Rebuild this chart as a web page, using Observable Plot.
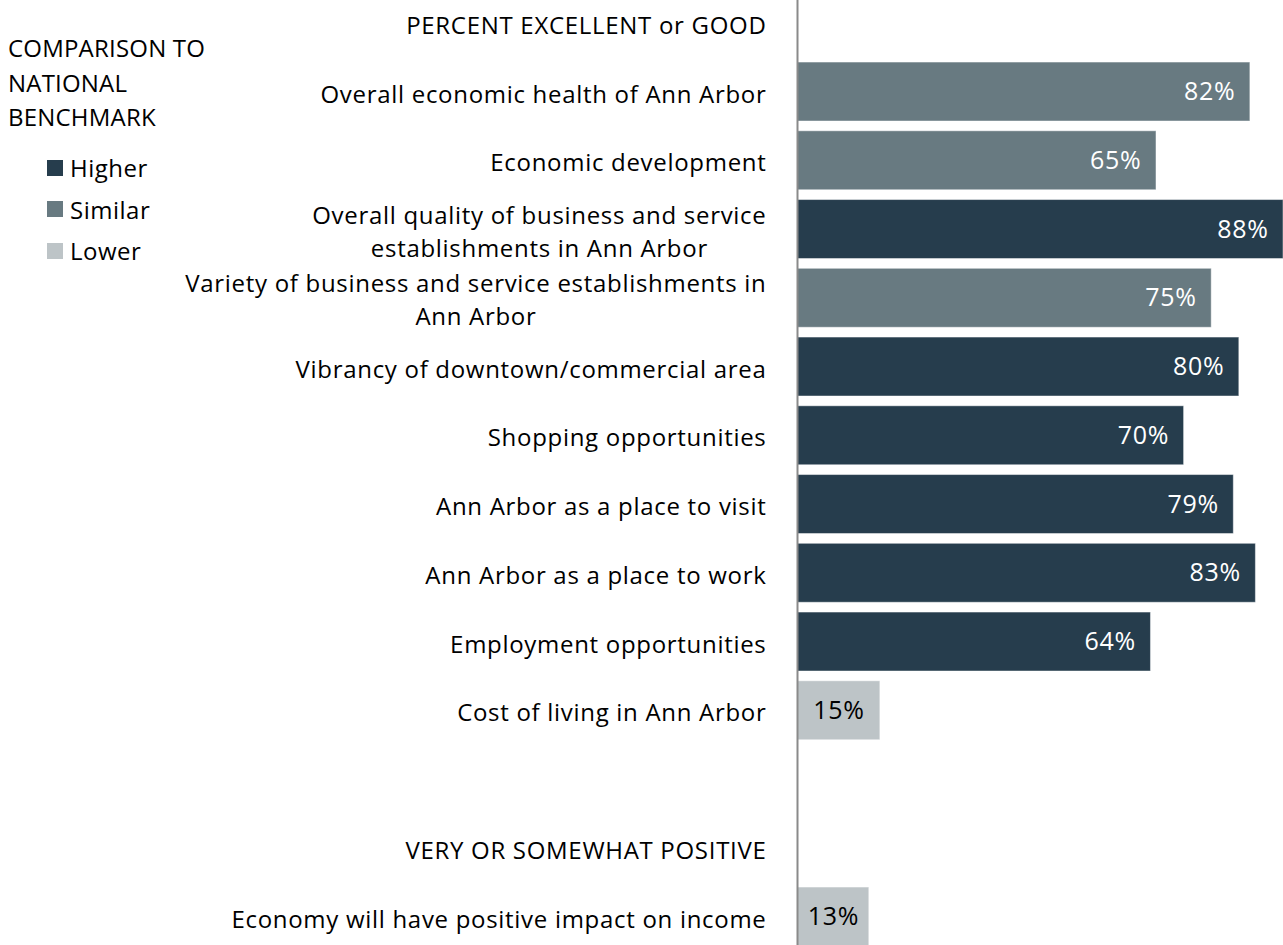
<!DOCTYPE html>
<html><head><meta charset="utf-8">
<script src="https://cdn.jsdelivr.net/npm/d3@7"></script>
<script src="https://cdn.jsdelivr.net/npm/@observablehq/plot@0.6"></script>
<style>
body{margin:0;background:#fff;}
#wrap{position:relative;width:1283px;height:945px;font-family:"Open Sans",sans-serif;color:#000;overflow:hidden;}
#ltitle{position:absolute;left:8px;top:31px;font-size:24px;line-height:34.5px;letter-spacing:0.2px;white-space:nowrap;}
#legend{position:absolute;left:47px;top:147px;font-family:"Open Sans",sans-serif;font-size:24px;letter-spacing:0.5px;}
#legend .lg-swatch, #legend [class$="-swatch"]{height:41.5px !important;padding:0 !important;display:flex;align-items:center;}
#legend svg{margin-right:7px !important;}
#chart{position:absolute;left:0;top:0;}
</style></head>
<body><div id="wrap"><div id="chart"></div><div id="ltitle"></div><div id="legend"></div></div>
<script>
const sectionHeaders = ["PERCENT EXCELLENT or GOOD", "VERY OR SOMEWHAT POSITIVE"];
const items = [
  "Overall economic health of Ann Arbor",
  "Economic development",
  "Overall quality of business and service\nestablishments in Ann Arbor",
  "Variety of business and service establishments in\nAnn Arbor",
  "Vibrancy of downtown/commercial area",
  "Shopping opportunities",
  "Ann Arbor as a place to visit",
  "Ann Arbor as a place to work",
  "Employment opportunities",
  "Cost of living in Ann Arbor",
  "Economy will have positive impact on income"
];
const values = [82, 65, 88, 75, 80, 70, 79, 83, 64, 15, 13];
const comparison = ["Similar","Similar","Higher","Similar","Higher","Higher","Higher","Higher","Higher","Lower","Lower"];
const legendTitle = ["COMPARISON TO", "NATIONAL", "BENCHMARK"];
const levels = ["Higher", "Similar", "Lower"];
const levelColors = ["#263d4d", "#687a81", "#bdc4c7"];

const rowKeys = [sectionHeaders[0], ...items.slice(0, 10), " ", sectionHeaders[1], items[10]];
const data = items.map((label, i) => ({label, value: values[i], level: comparison[i]}));
const labelRows = rowKeys.filter(k => k.trim() !== "").map(k => ({key: k}));

const FONT = "'Open Sans', sans-serif";

const chart = Plot.plot({
  width: 1283,
  height: 945,
  margin: 0,
  style: {fontFamily: FONT, fontSize: "24px", letterSpacing: "0.7px", color: "#000", background: "transparent"},
  x: {domain: [0, 88], range: [797, 1283], axis: null},
  y: {domain: rowKeys, range: [-11.6, 950.9], padding: 0, round: false, axis: null},
  color: {domain: levels, range: levelColors},
  marks: [
    Plot.barX(data, {x: "value", y: "label", fill: "level", insetTop: 4.9, insetBottom: 4.9, stroke: "#ffffff", strokeOpacity: 0.45, strokeWidth: 1}),
    Plot.ruleX([0], {stroke: "#8a8a8a", strokeWidth: 2}),
    Plot.text(labelRows, {x: () => 0, y: "key", text: "key", textAnchor: "end", dx: -31, lineHeight: 1.375, fill: "#000"}),
    Plot.text(data.filter(d => d.level !== "Lower"), {x: "value", y: "label", text: d => d.value + "%", textAnchor: "end", dx: -15, fill: "#ffffff", fontSize: 25}),
    Plot.text(data.filter(d => d.level === "Lower"), {x: d => d.value / 2, y: "label", text: d => d.value + "%", textAnchor: "middle", fill: "#000", fontSize: 25})
  ]
});
document.getElementById("chart").appendChild(chart);

// center lines of multi-line labels within their right-aligned block
chart.querySelectorAll("text").forEach(t => {
  const spans = t.querySelectorAll("tspan");
  if (spans.length > 1) {
    const widths = Array.from(spans, s => s.getComputedTextLength());
    const W = Math.max(...widths);
    spans.forEach((s, i) => s.setAttribute("x", -(W - widths[i]) / 2));
  }
});

document.getElementById("ltitle").innerHTML = legendTitle.join("<br>");
const lg = Plot.legend({
  color: {domain: levels, range: levelColors},
  legend: "swatches",
  columns: 1,
  swatchSize: 16,
  className: "lg",
  style: {fontFamily: FONT, fontSize: "24px", color: "#000"}
});
document.getElementById("legend").appendChild(lg);
</script>
</body></html>
